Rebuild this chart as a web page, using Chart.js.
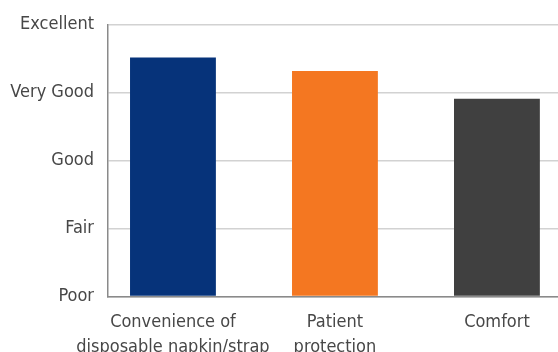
<!DOCTYPE html>
<html>
<head>
<meta charset="utf-8">
<script src="https://cdn.jsdelivr.net/npm/chart.js@4/dist/chart.umd.min.js"></script>
<style>
  html, body { margin: 0; padding: 0; background: #ffffff; overflow: hidden; }
  #wrap { width: 558px; height: 352px; }
</style>
</head>
<body>
<div id="wrap"><canvas id="c" width="558" height="352"></canvas></div>
<script>
// Rating categories and average scores (0 = Poor ... 4 = Excellent)
const categories = [
  ['Convenience of', 'disposable napkin/strap'],
  ['Patient', 'protection'],
  ['Comfort']
];
const scores = [3.52, 3.32, 2.91];
const barColors = ['#06337A', '#F47721', '#404040'];
const ratingLabels = ['Poor', 'Fair', 'Good', 'Very Good', 'Excellent'];

const textColor = '#474747';
const fontFamily = '"DejaVu Sans Condensed", "Liberation Sans Narrow", "Liberation Sans", sans-serif';

new Chart(document.getElementById('c'), {
  type: 'bar',
  data: {
    datasets: [{
      data: scores.map((v, i) => ({ x: i, y: v })),
      backgroundColor: barColors,
      borderWidth: 0,
      categoryPercentage: 1,
      barPercentage: 0.53
    }]
  },
  options: {
    responsive: false,
    animation: false,
    layout: { padding: { top: 21, right: 0, left: 0, bottom: 0 } },
    plugins: { legend: { display: false }, tooltip: { enabled: false } },
    scales: {
      x: {
        type: 'linear',
        offset: false,
        min: -0.401,
        max: 2.377,
        afterBuildTicks: (scale) => { scale.ticks = categories.map((_, i) => ({ value: i })); },
        afterFit: (scale) => { scale.height = 55.5; },
        grid: { display: false, drawTicks: false, offset: false },
        border: { display: true, color: '#8a8a8a', width: 1.5 },
        ticks: {
          autoSkip: false,
          maxRotation: 0,
          padding: 13,
          color: textColor,
          font: { family: fontFamily, size: 18, lineHeight: 1.39 },
          callback: (v) => categories[v]
        }
      },
      y: {
        min: 0,
        max: 4,
        afterBuildTicks: (scale) => { scale.ticks = ratingLabels.map((_, i) => ({ value: i })); },
        afterFit: (scale) => { scale.width = 108; },
        grid: { color: '#d2d2d2', lineWidth: 1.5, drawTicks: false },
        border: { display: true, color: '#8a8a8a', width: 1.5 },
        ticks: {
          padding: 14,
          color: textColor,
          font: { family: fontFamily, size: 18 },
          callback: (v) => ratingLabels[v]
        }
      }
    }
  }
});
</script>
</body>
</html>
